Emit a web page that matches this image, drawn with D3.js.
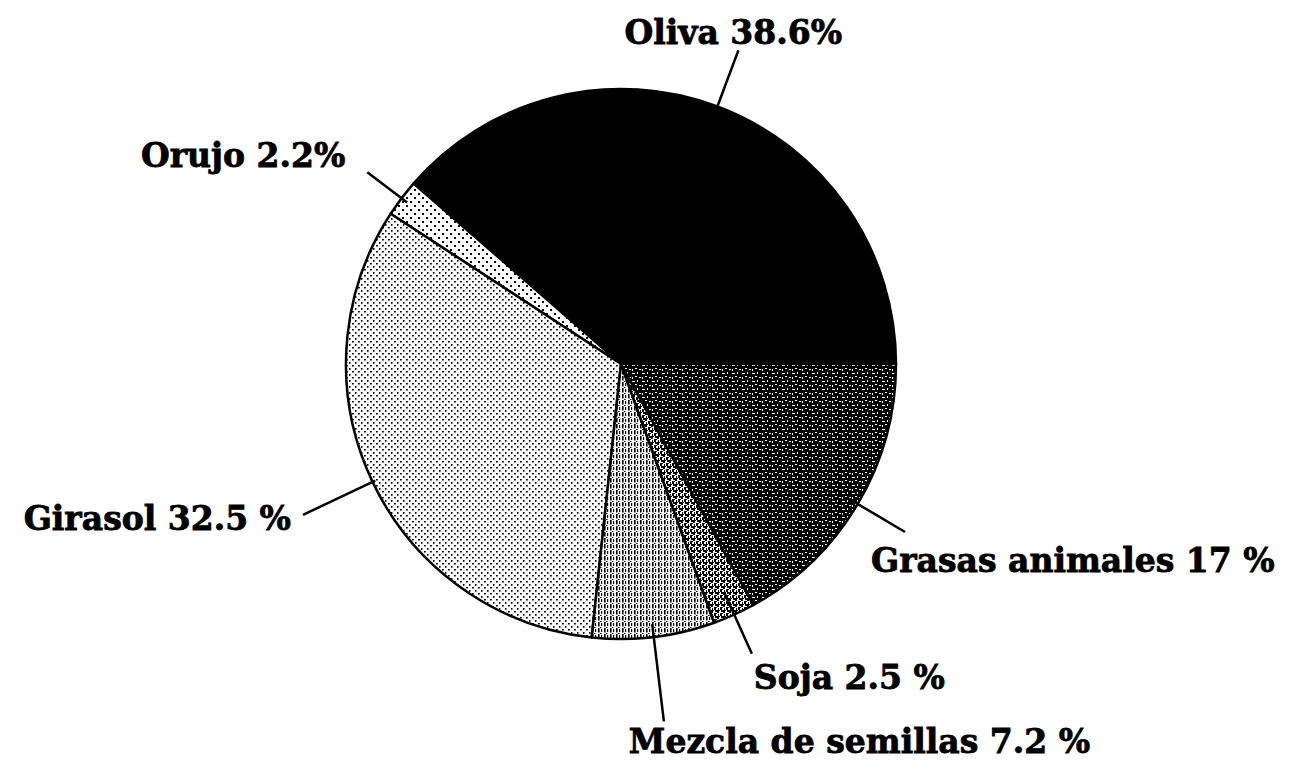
<!DOCTYPE html>
<html>
<head>
<meta charset="utf-8">
<script src="https://cdn.jsdelivr.net/npm/d3@7"></script>
<style>
  body { margin: 0; background: #fff; }
  svg { display: block; }
</style>
</head>
<body>
<svg id="svg" width="1304" height="769"></svg>
<script>
// data
const names = ['Oliva', 'Orujo', 'Girasol', 'Mezcla de semillas', 'Soja', 'Grasas animales']
const values = [38.6, 2.2, 32.5, 7.2, 2.5, 17]
const labels = ['Oliva 38.6%', 'Orujo 2.2%', 'Girasol 32.5 %', 'Mezcla de semillas 7.2 %', 'Soja 2.5 %', 'Grasas animales 17 %']
const fills = ['url(#p-oliva)', 'url(#p-orujo)', 'url(#p-girasol)', 'url(#p-mezcla)', 'url(#p-soja)', 'url(#p-grasas)']

// label layout (leader start/end radius, text offset from leader end)
const layout = [
  { r0: 268, r1: 335, dx: -114, dy: -6, anchor: 'start' },
  { r0: 268, r1: 318, dx: -22, dy: -5, anchor: 'end' },
  { r0: 272, r1: 352, dx: -12, dy: 15, anchor: 'end' },
  { r0: 262, r1: 360, dx: -35, dy: 32, anchor: 'start' },
  { r0: 250, r1: 318, dx: 2, dy: 35, anchor: 'start' },
  { r0: 262, r1: 330, dx: -34, dy: 40, anchor: 'start' }
]

const svg = d3.select('#svg')
const cx = 621
const cy = 364
const radius = 275

const defs = svg.append('defs')

function pattern (id, w, h, bg) {
  const p = defs.append('pattern')
    .attr('id', id)
    .attr('patternUnits', 'userSpaceOnUse')
    .attr('width', w)
    .attr('height', h)
  p.append('rect').attr('width', w).attr('height', h).attr('fill', bg)
  return p
}

pattern('p-oliva', 4, 4, '#000')

const orujo = pattern('p-orujo', 8, 8, '#fff')
orujo.append('rect').attr('x', 1).attr('y', 1).attr('width', 2).attr('height', 2).attr('fill', '#000')
orujo.append('rect').attr('x', 5).attr('y', 5).attr('width', 2).attr('height', 2).attr('fill', '#000')

const girasol = pattern('p-girasol', 6, 6, '#fff')
girasol.append('rect').attr('x', 1).attr('y', 1).attr('width', 1.8).attr('height', 1.5).attr('fill', '#000')
girasol.append('rect').attr('x', 4).attr('y', 4).attr('width', 1.5).attr('height', 1.8).attr('fill', '#000')

const mezcla = pattern('p-mezcla', 6, 6, '#fff')
mezcla.append('rect').attr('x', 1).attr('y', 0).attr('width', 1.6).attr('height', 4.5).attr('fill', '#000')
mezcla.append('rect').attr('x', 4).attr('y', 1).attr('width', 1.2).attr('height', 3).attr('fill', '#000')
mezcla.append('rect').attr('x', 3).attr('y', 5).attr('width', 1.5).attr('height', 1).attr('fill', '#000')

const soja = pattern('p-soja', 6, 6, '#fff')
soja.append('path').attr('d', 'M0,0h3v1h-1v2h-2zM3,3h3v1h-1v2h-2z').attr('fill', '#000')
soja.append('path').attr('d', 'M4,0h2v2h-2zM1,4h1v2h-1z').attr('fill', '#000')

const grasas = pattern('p-grasas', 10, 8, '#000')
grasas.append('rect').attr('x', 1).attr('y', 1).attr('width', 3).attr('height', 1).attr('fill', '#fff')
grasas.append('rect').attr('x', 6).attr('y', 0).attr('width', 1).attr('height', 2).attr('fill', '#fff')
grasas.append('rect').attr('x', 4).attr('y', 4).attr('width', 2).attr('height', 1).attr('fill', '#fff')
grasas.append('rect').attr('x', 8).attr('y', 5).attr('width', 2).attr('height', 1).attr('fill', '#fff')
grasas.append('rect').attr('x', 1).attr('y', 5).attr('width', 1).attr('height', 2).attr('fill', '#fff')

const data = names.map((n, i) => ({ name: n, value: values[i], label: labels[i], fill: fills[i], lay: layout[i] }))

// slices start at 3 o'clock and run counterclockwise
const pie = d3.pie()
  .sort(null)
  .value(d => d.value)
  .startAngle(Math.PI / 2)
  .endAngle(Math.PI / 2 - 2 * Math.PI)

const arc = d3.arc()
  .innerRadius(0)
  .outerRadius(radius)

const g = svg.append('g')
  .attr('transform', `translate(${cx},${cy})`)

const arcs = pie(data)

g.selectAll('path.slice')
  .data(arcs)
  .enter()
  .append('path')
  .attr('class', 'slice')
  .attr('d', arc)
  .attr('fill', d => d.data.fill)
  .attr('stroke', '#000')
  .attr('stroke-width', 2.5)
  .attr('stroke-linejoin', 'round')

const point = (a, r) => [Math.sin(a) * r, -Math.cos(a) * r]

const lab = g.selectAll('g.lab')
  .data(arcs)
  .enter()
  .append('g')
  .attr('class', 'lab')

lab.append('path')
  .attr('d', d => {
    const a = (d.startAngle + d.endAngle) / 2
    return d3.line()([point(a, d.data.lay.r0), point(a, d.data.lay.r1)])
  })
  .attr('stroke', '#000')
  .attr('stroke-width', 2.5)
  .attr('fill', 'none')

lab.append('text')
  .text(d => d.data.label)
  .attr('x', d => point((d.startAngle + d.endAngle) / 2, d.data.lay.r1)[0] + d.data.lay.dx)
  .attr('y', d => point((d.startAngle + d.endAngle) / 2, d.data.lay.r1)[1] + d.data.lay.dy)
  .attr('text-anchor', d => d.data.lay.anchor)
  .attr('fill', '#000')
  .attr('stroke', '#000')
  .attr('stroke-width', 0.8)
  .style('font-family', 'DejaVu Serif')
  .style('font-weight', 'bold')
  .style('font-size', '33px')
</script>
</body>
</html>
